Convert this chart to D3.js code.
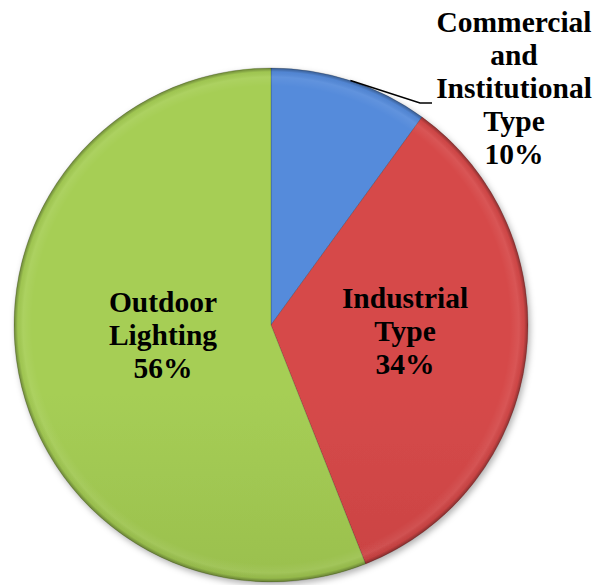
<!DOCTYPE html>
<html>
<head>
<meta charset="utf-8">
<script src="https://cdn.jsdelivr.net/npm/d3@7"></script>
<style>
  html, body { margin: 0; padding: 0; background: #fff; }
  svg { display: block; }
</style>
</head>
<body>
<svg id="chart" width="594" height="585"></svg>
<script>
// Share of lighting demand by sector
const categories = ["Commercial and Institutional Type", "Industrial Type", "Outdoor Lighting"];
const shares = [10, 34, 56];
const labelLines = [
  ["Commercial", "and", "Institutional", "Type", "10%"],
  ["Industrial", "Type", "34%"],
  ["Outdoor", "Lighting", "56%"]
];
const topColors = ["#548bdb", "#d64a4a", "#a6ce55"];
const bottomColors = ["#3e6fbd", "#b53535", "#86a742"];

const svg = d3.select("#chart");
const cx = 271, cy = 325, R = 257;

const defs = svg.append("defs");
categories.forEach((c, i) => {
  const g = defs.append("linearGradient")
    .attr("id", "grad" + i)
    .attr("gradientUnits", "userSpaceOnUse")
    .attr("x1", 0).attr("y1", cy - R).attr("x2", 0).attr("y2", cy + R);
  g.append("stop").attr("offset", 0).attr("stop-color", topColors[i]);
  g.append("stop").attr("offset", 1).attr("stop-color", bottomColors[i]);
});

// rim bevel: faint light band just inside the edge, dark right at the edge
const rim = defs.append("radialGradient")
  .attr("id", "rim")
  .attr("gradientUnits", "userSpaceOnUse")
  .attr("cx", 0).attr("cy", 0).attr("r", R);
[[0, "#fff", 0], [0.93, "#fff", 0], [0.965, "#fff", 0.07], [0.985, "#000", 0.04], [1, "#000", 0.35]]
  .forEach(([o, c, a]) => rim.append("stop").attr("offset", o).attr("stop-color", c).attr("stop-opacity", a));

const shadow = defs.append("filter").attr("id", "shadow")
  .attr("x", "-10%").attr("y", "-10%").attr("width", "120%").attr("height", "120%");
shadow.append("feDropShadow").attr("dx", 2).attr("dy", 3).attr("stdDeviation", 3)
  .attr("flood-color", "#000").attr("flood-opacity", 0.3);

const pie = d3.pie().sort(null).value(d => d)(shares);
const arc = d3.arc().innerRadius(0).outerRadius(R);

const g = svg.append("g").attr("transform", `translate(${cx},${cy})`);
const slices = g.append("g").attr("filter", "url(#shadow)");
slices.selectAll("path.slice")
  .data(pie)
  .join("path")
  .attr("class", "slice")
  .attr("d", arc)
  .attr("fill", (d, i) => `url(#grad${i})`)
  .attr("stroke", "rgba(0,0,0,0.22)")
  .attr("stroke-width", 0.8);

g.append("circle").attr("r", R).attr("fill", "url(#rim)").attr("pointer-events", "none");

// leader line for the small slice, starting at its mid-angle on the rim
const mid0 = (pie[0].startAngle + pie[0].endAngle) / 2;
const p0 = d3.arc().innerRadius(R).outerRadius(R).centroid({ startAngle: mid0, endAngle: mid0 });
g.append("polyline")
  .attr("points", [[p0[0], p0[1]], [149, -222], [161, -222]].map(p => p.join(",")).join(" "))
  .attr("fill", "none").attr("stroke", "#000").attr("stroke-width", 1.5);

// labels: outside anchor for the small slice, inside for the others
const fontSize = 29.5, lineH = 33;
const anchors = [
  [243, -293],
  [134, -17],
  [-108, -13]
];
labelLines.forEach((lines, i) => {
  const t = g.append("text")
    .attr("text-anchor", "middle")
    .attr("font-family", "'Liberation Serif', 'Times New Roman', Times, serif")
    .attr("font-weight", "bold")
    .attr("font-size", fontSize)
    .attr("fill", "#000");
  lines.forEach((s, j) => {
    t.append("tspan")
      .attr("x", anchors[i][0])
      .attr("y", anchors[i][1] + j * lineH)
      .text(s);
  });
});
</script>
</body>
</html>
